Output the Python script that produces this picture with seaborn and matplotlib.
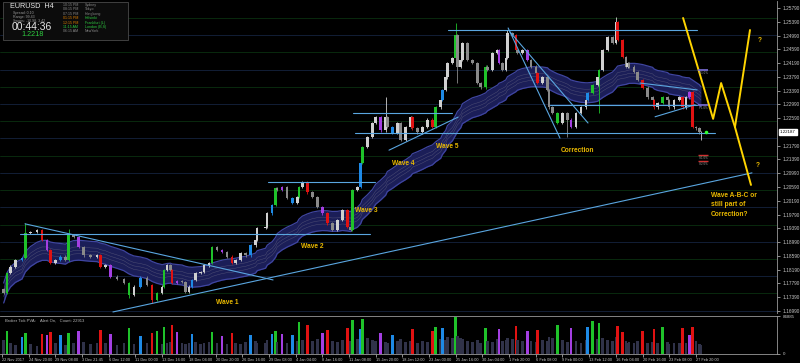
import numpy as np
import pandas as pd
import seaborn as sns
import matplotlib.pyplot as plt
from matplotlib.patches import Rectangle

bars = [1, 3, 5, 8, 12, 14, 17, 21, 24, 27,
        29, 32, 35, 38, 40, 43, 46, 49, 53, 57,
        59, 62, 65, 69, 73, 76, 79, 83, 87, 90,
        93, 96, 97, 99, 101, 102, 105, 108, 110, 112,
        114, 116, 119, 121, 124, 126, 129, 132, 135, 138,
        140, 143, 146, 149, 152, 153, 158, 159, 162, 164,
        165, 168, 171, 174, 177, 178, 180, 183, 186, 189,
        192, 195, 198, 201, 204, 207, 209, 210, 213, 215,
        216, 219, 222, 224, 227, 230, 231, 234, 237, 239,
        242, 245, 246, 249, 252, 255, 258, 260, 263, 264,
        266, 267, 270, 272, 273, 275, 276, 279, 282, 285,
        287, 290, 291, 294, 297, 298, 300, 302, 303, 306,
        308, 309, 312, 315, 317, 320, 321, 324, 327, 328,
        330, 333, 336, 339, 341, 344, 347, 350, 351, 354,
        357, 358, 360, 363, 366, 368, 369, 372, 374, 375,
        376, 379, 381, 384, 387, 390, 391, 393, 396, 399,
        400, 403, 406, 408, 410, 412, 414, 416, 418, 419]

closes = [1.1751, 1.1809, 1.1827, 1.1847, 1.1853, 1.1925, 1.1928, 1.1934, 1.1905, 1.1876,
          1.1838, 1.1847, 1.1856, 1.1847, 1.1919, 1.1914, 1.1885, 1.1861, 1.1856, 1.1861,
          1.1827, 1.1832, 1.1798, 1.1792, 1.1780, 1.1745, 1.1769, 1.1795, 1.1774, 1.1731,
          1.1751, 1.1769, 1.1818, 1.1832, 1.1818, 1.1780, 1.1786, 1.1783, 1.1754, 1.1769,
          1.1789, 1.1809, 1.1812, 1.1832, 1.1838, 1.1885, 1.1876, 1.1870, 1.1856, 1.1838,
          1.1847, 1.1867, 1.1861, 1.1890, 1.1905, 1.1940, 1.1943, 1.1983, 1.2007, 1.2056,
          1.2050, 1.2059, 1.2027, 1.2013, 1.2030, 1.2059, 1.2073, 1.2044, 1.2030, 1.2001,
          1.1983, 1.1954, 1.1934, 1.1963, 1.1992, 1.1943, 1.1934, 1.2050, 1.2059, 1.2129,
          1.2175, 1.2204, 1.2245, 1.2262, 1.2224, 1.2262, 1.2233, 1.2216, 1.2245, 1.2196,
          1.2233, 1.2262, 1.2230, 1.2218, 1.2233, 1.2254, 1.2233, 1.2291, 1.2312, 1.2341,
          1.2378, 1.2419, 1.2434, 1.2500, 1.2408, 1.2428, 1.2477, 1.2428, 1.2419, 1.2361,
          1.2349, 1.2408, 1.2399, 1.2448, 1.2457, 1.2419, 1.2399, 1.2434, 1.2506, 1.2500,
          1.2457, 1.2448, 1.2457, 1.2428, 1.2408, 1.2390, 1.2361, 1.2378, 1.2341, 1.2291,
          1.2274, 1.2245, 1.2274, 1.2254, 1.2233, 1.2274, 1.2291, 1.2312, 1.2332, 1.2355,
          1.2378, 1.2399, 1.2457, 1.2495, 1.2477, 1.2538, 1.2486, 1.2437, 1.2408, 1.2419,
          1.2408, 1.2393, 1.2370, 1.2347, 1.2320, 1.2312, 1.2291, 1.2303, 1.2320, 1.2312,
          1.2291, 1.2312, 1.2320, 1.2291, 1.2320, 1.2335, 1.2233, 1.2230, 1.2218, 1.2219]
first_open = 1.1762

# long wicks that stand out
wick_high = {14: 1.1954, 40: 1.1937, 230: 1.2320, 272: 1.2535, 368: 1.2553, 303: 1.2516}
wick_low = {76: 1.1737, 90: 1.1722, 273: 1.2361, 339: 1.2204, 358: 1.2274, 419: 1.2196}

# Broker Tick PVA class per candle: n normal, g/r climax, b/p rising volume
pva = ("ngnnbgnnrp" "rnbngnpnnn" "rnpnngnbnr" "gngnnrpnnn" "bnnnngnpnr"
       "nnnbnnnnbg" "npnbngnrnn" "prnnnrngnb" "gnnnpnnbnn" "nnrnnnrgnb"
       "nnngnnnnnn" "ngnnnpnnnn" "rnnpnnrnnn" "ngnnpnnnbg" "ngnnnnrrnn"
       "nnnrnnrngn" "nnnrnprnnn")

volumes = [32000, 52000, 24000, 20000, 38000, 48000, 22000, 18000, 45000, 42000,
           50000, 26000, 44000, 21000, 48000, 25000, 52000, 28000, 22000, 24000,
           55000, 26000, 46000, 20000, 24000, 58000, 22000, 40000, 26000, 48000,
           52000, 23000, 62000, 25000, 28000, 66000, 50000, 26000, 22000, 24000,
           46000, 27000, 22000, 25000, 28000, 50000, 24000, 40000, 22000, 48000,
           26000, 22000, 28000, 44000, 30000, 24000, 26000, 32000, 46000, 52000,
           28000, 46000, 26000, 44000, 30000, 72000, 32000, 66000, 30000, 34000,
           48000, 54000, 30000, 28000, 32000, 58000, 30000, 76000, 34000, 56000,
           80000, 36000, 32000, 30000, 48000, 28000, 26000, 44000, 30000, 34000,
           28000, 30000, 56000, 26000, 30000, 28000, 52000, 62000, 34000, 58000,
           32000, 38000, 36000, 84000, 40000, 36000, 34000, 30000, 28000, 32000,
           26000, 58000, 30000, 28000, 34000, 56000, 30000, 32000, 36000, 34000,
           64000, 32000, 30000, 52000, 30000, 28000, 54000, 32000, 30000, 38000,
           36000, 66000, 32000, 28000, 58000, 30000, 26000, 32000, 60000, 74000,
           34000, 70000, 36000, 32000, 30000, 38000, 64000, 50000, 30000, 26000,
           28000, 24000, 30000, 52000, 26000, 28000, 56000, 24000, 60000, 28000,
           22000, 26000, 24000, 58000, 26000, 42000, 62000, 30000, 22000, 20000]

date_labels = ["22 Nov 2017", "24 Nov 20:00", "29 Nov 08:00", "3 Dec 21:45", "6 Dec 12:00",
               "11 Dec 00:00", "13 Dec 16:00", "18 Dec 04:00", "20 Dec 20:00", "26 Dec 16:00",
               "29 Dec 08:00", "4 Jan 04:00", "8 Jan 16:00", "11 Jan 08:00", "15 Jan 20:00",
               "18 Jan 12:00", "23 Jan 00:00", "25 Jan 16:00", "30 Jan 04:00", "1 Feb 20:00",
               "6 Feb 08:00", "9 Feb 00:00", "13 Feb 12:00", "16 Feb 04:00", "20 Feb 16:00",
               "23 Feb 08:00", "27 Feb 20:00"]
label_bars = list(range(0, 417, 16))

price_levels = [1.16990, 1.17390, 1.17790, 1.18190, 1.18590, 1.18990, 1.19390, 1.19790,
                1.20190, 1.20590, 1.20990, 1.21390, 1.21790, 1.22590, 1.22990, 1.23390,
                1.23790, 1.24190, 1.24590, 1.24990, 1.25390, 1.25790]
round_levels = [1.170, 1.175, 1.180, 1.185, 1.190, 1.195, 1.200, 1.205, 1.210, 1.215,
                1.220, 1.225, 1.230, 1.235, 1.240, 1.245, 1.250, 1.255]
last_price = 1.22187

# analyst drawings: (bar0, price0, bar1, price1)
trend_lines = [(10.8, 1.1922, 220.6, 1.1922),
               (13.8, 1.1952, 162.5, 1.1789),
               (66.5, 1.1696, 449.6, 1.2100),
               (159.5, 1.2073, 223.6, 1.2073),
               (210.4, 1.2274, 269.8, 1.2274),
               (211.6, 1.2216, 427.5, 1.2216),
               (232.0, 1.2166, 273.4, 1.2262),
               (267.4, 1.2515, 416.7, 1.2515),
               (303.4, 1.2521, 334.5, 1.2201),
               (304.6, 1.2509, 351.3, 1.2245),
               (328.5, 1.2297, 416.7, 1.2297),
               (382.5, 1.2361, 416.7, 1.2341),
               (391.5, 1.2263, 415.5, 1.2298)]
path_bars = [408.3, 426.3, 431.1, 439.4, 449.0]
path_prices = [1.2550, 1.2257, 1.2361, 1.2233, 1.2065]
branch_bars = [439.4, 448.4]
branch_prices = [1.2233, 1.2515]

wave_labels = ["Wave 1", "Wave 2", "Wave 3", "Wave 4", "Wave 5", "Correction"]
wave_bars = [135.0, 185.9, 218.2, 240.4, 266.8, 345.3]
wave_prices = [1.1722, 1.1885, 1.1992, 1.2126, 1.2178, 1.2164]

sns.set_theme(style="dark", rc={"axes.facecolor": "black", "figure.facecolor": "black",
                                "axes.edgecolor": "#8a8a8a", "axes.grid": False})
plt.rcParams["font.family"] = ["Liberation Sans", "DejaVu Sans"]

fig = plt.figure(figsize=(8, 3.63), dpi=100)
ax = fig.add_axes([0, 0.1377, 0.97125, 0.8595])
vol = fig.add_axes([0, 0.0248, 0.97125, 0.1047])
xlim = (-1.2, 464.6)

df = pd.DataFrame({"bar": bars, "close": closes, "pva": list(pva), "volume": volumes})
df["open"] = df["close"].shift(1).fillna(first_open)
df["high"] = df[["open", "close"]].max(axis=1) + 0.0004
df["low"] = df[["open", "close"]].min(axis=1) - 0.0004
for b, v in wick_high.items():
    df.loc[df.bar == b, "high"] = v
for b, v in wick_low.items():
    df.loc[df.bar == b, "low"] = v

# ema ribbon
times = pd.to_datetime(np.array(bars) * 4, unit="h")
df["ema"] = df["close"].ewm(halflife=pd.Timedelta(hours=4 * 26), times=times).mean()
half = 0.0029
ax.fill_between(df.bar, df.ema - half, df.ema + half, color="#1b1e58", lw=0, zorder=2)
for off, col, lw in [(-half, "#3f45a0", 0.9), (half, "#3f45a0", 0.9),
                     (-0.0010, "#4e4e74", 0.35), (0.0, "#4e4e74", 0.35), (0.0010, "#4e4e74", 0.35)]:
    sns.lineplot(x=df.bar, y=df.ema + off, ax=ax, color=col, lw=lw, zorder=3)

# round-number grid
for i, lv in enumerate(round_levels):
    ax.axhline(lv, color="#0a3010" if i % 2 else "#15233f", lw=0.6, zorder=1)

# candles
colors = {"g": "#1fc22a", "r": "#e01212", "b": "#1e8ae6", "p": "#a43fe2"}
cc = [colors.get(k, "#d0d0d0" if c >= o else "#8a8a8a")
      for k, o, c in zip(df.pva, df.open, df.close)]
ax.vlines(df.bar, df.low, df.high, colors=cc, lw=0.6, zorder=4)
ax.bar(df.bar, df.close - df.open, bottom=df.open, width=1.5, color=cc, lw=0, zorder=5)

for b0, p0, b1, p1 in trend_lines:
    sns.lineplot(x=[b0, b1], y=[p0, p1], ax=ax, color="#5aa6e0", lw=0.8, zorder=6)
sns.lineplot(x=path_bars, y=path_prices, ax=ax, color="#ffd400", lw=1.4, sort=False, zorder=7)
sns.lineplot(x=branch_bars, y=branch_prices, ax=ax, color="#ffd400", lw=1.4, zorder=7)

for t, b, p in zip(wave_labels, wave_bars, wave_prices):
    ax.text(b, p, t, color="#e8b800", fontsize=4.8, fontweight="bold", ha="center", va="center", zorder=8)
ax.text(425, 1.2045, "Wave A-B-C or\nstill part of\nCorrection?", color="#e8b800", fontsize=4.8,
        fontweight="bold", ha="left", va="top", linespacing=1.5, zorder=8)
ax.text(454.4, 1.2486, "?", color="#e8b800", fontsize=4.8, fontweight="bold", ha="center", va="center")
ax.text(453.2, 1.2120, "?", color="#e8b800", fontsize=4.8, fontweight="bold", ha="center", va="center")

# pivot marks near the last bar
ax.hlines([1.2399, 1.2297], 417.3, 423.3, colors="#7b6fd8", lw=1.2, zorder=8)
ax.hlines([1.2152, 1.2134], 417.3, 423.3, colors="#d03030", lw=1.0, zorder=8)
for p, t in [(1.2390, "R1 0%"), (1.2288, "PL 0%"), (1.2142, "S1 0%"), (1.2126, "S2 0%")]:
    ax.text(420.3, p, t, color="#9a9a9a", fontsize=2.2, ha="center", va="center", zorder=8)
ax.scatter([422], [last_price], s=2.5, color="#30ff30", zorder=9)

ax.set_xlim(*xlim)
ax.set_ylim(1.16929, 1.25993)
ax.set_yticks(price_levels)
ax.set_yticklabels([f"{v:.5f}" for v in price_levels])
ax.yaxis.tick_right()
ax.tick_params(axis="y", colors="#c8c8c8", labelsize=3.4, length=2, width=0.5, pad=2, right=True)
ax.set_xticks([])
ax.set_xlabel("")
ax.set_ylabel("")
for s in ["top", "left", "bottom"]:
    ax.spines[s].set_visible(False)
ax.spines["right"].set_color("#9a9a9a")
ax.spines["right"].set_linewidth(0.6)
ax.text(1.004, last_price, "1.22187", transform=ax.get_yaxis_transform(), fontsize=3.2,
        color="black", va="center", ha="left",
        bbox=dict(boxstyle="square,pad=0.25", fc="white", ec="white"))

# volume panel
vc = [colors.get(k, "#303249") for k in df.pva]
vol.bar(df.bar, df.volume, width=1.5, color=vc, lw=0)
vol.set_xlim(*xlim)
vol.set_ylim(0, 86000)
vol.set_yticks([0, 84885])
vol.set_yticklabels(["0", "84885"])
vol.yaxis.tick_right()
vol.tick_params(axis="y", colors="#c8c8c8", labelsize=3.2, length=2, width=0.5, pad=2, right=True)
vol.set_xticks(label_bars)
vol.set_xticklabels(date_labels, ha="left")
vol.tick_params(axis="x", colors="#c8c8c8", labelsize=2.8, length=2, width=0.5, pad=1, bottom=True)
vol.set_xlabel("")
vol.set_ylabel("")
vol.spines["left"].set_visible(False)
for s in ["top", "right", "bottom"]:
    vol.spines[s].set_color("#9a9a9a")
    vol.spines[s].set_linewidth(0.6)
vol.text(0.006, 0.93, "Broker Tick PVA:    Alert On,   Count: 22913", transform=vol.transAxes,
         fontsize=3.0, color="#b8b8b8", va="top")

# info box top left
fig.patches.append(Rectangle((3 / 800, 1 - 40 / 363), 125 / 800, 38 / 363, transform=fig.transFigure,
                             fc="#0c0c0c", ec="#4a4a4a", lw=0.6, zorder=10))
fig.text(10 / 800, 1 - 7 / 363, "EURUSD  H4", color="#e8e8e8", fontsize=5.2, va="center", zorder=11)
for i, t in enumerate(["Spread: 0.10", "Range: 99.43", "Swaps: -10.98, 3.42"]):
    fig.text(13 / 800, 1 - (13 + 4 * i) / 363, t, color="#9a9a9a", fontsize=2.6, va="center", zorder=11)
fig.text(12 / 800, 1 - 27 / 363, "00:44:36", color="#e8e8e8", fontsize=7.5, va="center", zorder=11)
fig.text(21 / 800, 1 - 35 / 363, "1.2218", color="#2ecc40", fontsize=5.2, va="center", zorder=11)
sessions = [("10:15 PM", "Sydney", "#8a8a8a", "#8a8a8a"), ("08:15 PM", "Tokyo", "#8a8a8a", "#8a8a8a"),
            ("07:15 PM", "Hongkong", "#8a8a8a", "#8a8a8a"), ("01:15 PM", "Helsinki", "#e08000", "#2ecc40"),
            ("12:15 PM", "Frankfurt (L)", "#e08000", "#2ecc40"), ("11:15 AM", "London (B,S)", "#2ecc40", "#2ecc40"),
            ("06:15 AM", "NewYork", "#8a8a8a", "#8a8a8a")]
for i, (tm, city, c1, c2) in enumerate(sessions):
    y = 1 - (5 + 4.4 * i) / 363
    fig.text(63 / 800, y, tm, color=c1, fontsize=2.6, va="center", zorder=11)
    fig.text(85 / 800, y, city, color=c2, fontsize=2.6, va="center", zorder=11)

plt.savefig("out.png", dpi=100, facecolor="black")
